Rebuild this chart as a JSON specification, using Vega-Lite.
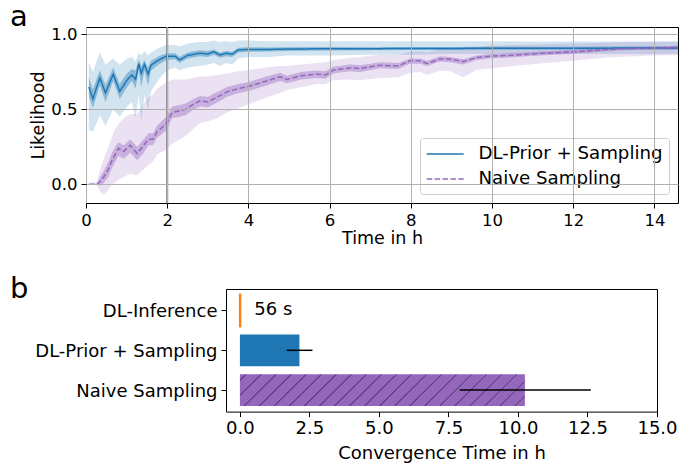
{
  "$schema": "https://vega.github.io/schema/vega-lite/v6.json",
  "background": "white",
  "padding": {"left": 8, "top": 2, "right": 0, "bottom": 0},
  "config": {
    "font": "DejaVu Sans",
    "view": {"stroke": "#000000", "strokeWidth": 1},
    "axis": {"domain": false, "tickColor": "#000000", "tickSize": 5, "tickWidth": 1, "labelColor": "#000000", "titleColor": "#000000", "labelFont": "DejaVu Sans", "titleFont": "DejaVu Sans", "titleFontWeight": "normal", "gridColor": "#b0b0b0", "gridWidth": 1, "labelFlush": false},
    "title": {"font": "DejaVu Sans", "fontWeight": "normal", "color": "#000000"},
    "concat": {"spacing": 26}
  },
  "resolve": {"scale": {"color": "independent", "strokeDash": "independent"}, "legend": {"color": "independent", "strokeDash": "independent"}},
  "vconcat": [
    {"spacing": 0,
     "resolve": {"scale": {"color": "independent", "strokeDash": "independent"}, "legend": {"color": "independent", "strokeDash": "independent"}},
     "hconcat": [
    {"width": 1, "height": 1, "view": {"stroke": null}, "data": {"values": []}, "mark": "point", "encoding": {}},
    {
      "width": 592,
      "height": 176,
      "title": {"text": "a", "anchor": "start", "frame": "group", "dx": -76, "dy": 28.5, "fontSize": 29, "baseline": "alphabetic", "offset": 0},
      "data": {"values": [
        {"s": "DL-Prior + Sampling", "t": 0.07, "m": 0.65, "il": 0.585, "ih": 0.715, "ol": 0.36, "oh": 0.815},
        {"s": "DL-Prior + Sampling", "t": 0.17, "m": 0.57, "il": 0.51, "ih": 0.635, "ol": 0.35, "oh": 0.75},
        {"s": "DL-Prior + Sampling", "t": 0.34, "m": 0.71, "il": 0.66, "ih": 0.76, "ol": 0.46, "oh": 0.88},
        {"s": "DL-Prior + Sampling", "t": 0.48, "m": 0.61, "il": 0.55, "ih": 0.665, "ol": 0.39, "oh": 0.8},
        {"s": "DL-Prior + Sampling", "t": 0.67, "m": 0.735, "il": 0.69, "ih": 0.78, "ol": 0.5, "oh": 0.84},
        {"s": "DL-Prior + Sampling", "t": 0.83, "m": 0.62, "il": 0.57, "ih": 0.67, "ol": 0.45, "oh": 0.8},
        {"s": "DL-Prior + Sampling", "t": 1.01, "m": 0.695, "il": 0.65, "ih": 0.74, "ol": 0.52, "oh": 0.84},
        {"s": "DL-Prior + Sampling", "t": 1.13, "m": 0.73, "il": 0.69, "ih": 0.77, "ol": 0.55, "oh": 0.85},
        {"s": "DL-Prior + Sampling", "t": 1.22, "m": 0.7, "il": 0.64, "ih": 0.76, "ol": 0.44, "oh": 0.82},
        {"s": "DL-Prior + Sampling", "t": 1.3, "m": 0.805, "il": 0.765, "ih": 0.835, "ol": 0.6, "oh": 0.88},
        {"s": "DL-Prior + Sampling", "t": 1.36, "m": 0.74, "il": 0.65, "ih": 0.79, "ol": 0.42, "oh": 0.86},
        {"s": "DL-Prior + Sampling", "t": 1.44, "m": 0.8, "il": 0.76, "ih": 0.83, "ol": 0.6, "oh": 0.89},
        {"s": "DL-Prior + Sampling", "t": 1.53, "m": 0.735, "il": 0.66, "ih": 0.78, "ol": 0.5, "oh": 0.86},
        {"s": "DL-Prior + Sampling", "t": 1.6, "m": 0.795, "il": 0.76, "ih": 0.825, "ol": 0.62, "oh": 0.88},
        {"s": "DL-Prior + Sampling", "t": 1.79, "m": 0.83, "il": 0.8, "ih": 0.855, "ol": 0.7, "oh": 0.91},
        {"s": "DL-Prior + Sampling", "t": 1.98, "m": 0.855, "il": 0.83, "ih": 0.875, "ol": 0.76, "oh": 0.93},
        {"s": "DL-Prior + Sampling", "t": 2.2, "m": 0.855, "il": 0.835, "ih": 0.875, "ol": 0.78, "oh": 0.93},
        {"s": "DL-Prior + Sampling", "t": 2.3, "m": 0.83, "il": 0.81, "ih": 0.85, "ol": 0.76, "oh": 0.92},
        {"s": "DL-Prior + Sampling", "t": 2.5, "m": 0.86, "il": 0.84, "ih": 0.88, "ol": 0.78, "oh": 0.94},
        {"s": "DL-Prior + Sampling", "t": 2.8, "m": 0.875, "il": 0.855, "ih": 0.895, "ol": 0.79, "oh": 0.95},
        {"s": "DL-Prior + Sampling", "t": 3.0, "m": 0.87, "il": 0.85, "ih": 0.89, "ol": 0.8, "oh": 0.95},
        {"s": "DL-Prior + Sampling", "t": 3.15, "m": 0.885, "il": 0.865, "ih": 0.9, "ol": 0.81, "oh": 0.96},
        {"s": "DL-Prior + Sampling", "t": 3.3, "m": 0.862, "il": 0.845, "ih": 0.88, "ol": 0.79, "oh": 0.95},
        {"s": "DL-Prior + Sampling", "t": 3.45, "m": 0.875, "il": 0.855, "ih": 0.89, "ol": 0.81, "oh": 0.955},
        {"s": "DL-Prior + Sampling", "t": 3.6, "m": 0.868, "il": 0.85, "ih": 0.885, "ol": 0.8, "oh": 0.95},
        {"s": "DL-Prior + Sampling", "t": 3.75, "m": 0.897, "il": 0.88, "ih": 0.912, "ol": 0.84, "oh": 0.96},
        {"s": "DL-Prior + Sampling", "t": 4.0, "m": 0.9, "il": 0.885, "ih": 0.915, "ol": 0.85, "oh": 0.96},
        {"s": "DL-Prior + Sampling", "t": 4.5, "m": 0.9, "il": 0.887, "ih": 0.913, "ol": 0.85, "oh": 0.955},
        {"s": "DL-Prior + Sampling", "t": 5.0, "m": 0.903, "il": 0.89, "ih": 0.915, "ol": 0.86, "oh": 0.955},
        {"s": "DL-Prior + Sampling", "t": 6.0, "m": 0.905, "il": 0.893, "ih": 0.917, "ol": 0.86, "oh": 0.955},
        {"s": "DL-Prior + Sampling", "t": 7.0, "m": 0.905, "il": 0.895, "ih": 0.915, "ol": 0.865, "oh": 0.955},
        {"s": "DL-Prior + Sampling", "t": 8.0, "m": 0.907, "il": 0.897, "ih": 0.917, "ol": 0.865, "oh": 0.955},
        {"s": "DL-Prior + Sampling", "t": 9.0, "m": 0.907, "il": 0.897, "ih": 0.917, "ol": 0.87, "oh": 0.955},
        {"s": "DL-Prior + Sampling", "t": 10.0, "m": 0.908, "il": 0.898, "ih": 0.918, "ol": 0.87, "oh": 0.955},
        {"s": "DL-Prior + Sampling", "t": 11.0, "m": 0.908, "il": 0.898, "ih": 0.918, "ol": 0.87, "oh": 0.953},
        {"s": "DL-Prior + Sampling", "t": 12.0, "m": 0.908, "il": 0.898, "ih": 0.918, "ol": 0.87, "oh": 0.953},
        {"s": "DL-Prior + Sampling", "t": 13.0, "m": 0.909, "il": 0.899, "ih": 0.919, "ol": 0.87, "oh": 0.953},
        {"s": "DL-Prior + Sampling", "t": 14.0, "m": 0.91, "il": 0.9, "ih": 0.92, "ol": 0.87, "oh": 0.953},
        {"s": "DL-Prior + Sampling", "t": 14.58, "m": 0.91, "il": 0.9, "ih": 0.92, "ol": 0.87, "oh": 0.953},
        {"s": "Naive Sampling", "t": 0.07, "m": 0.0, "il": 0.0, "ih": 0.0, "ol": 0.0, "oh": 0.0},
        {"s": "Naive Sampling", "t": 0.27, "m": 0.0, "il": 0.0, "ih": 0.0, "ol": -0.01, "oh": 0.02},
        {"s": "Naive Sampling", "t": 0.35, "m": 0.02, "il": -0.01, "ih": 0.05, "ol": -0.05, "oh": 0.1},
        {"s": "Naive Sampling", "t": 0.44, "m": 0.05, "il": 0.01, "ih": 0.09, "ol": -0.07, "oh": 0.17},
        {"s": "Naive Sampling", "t": 0.55, "m": 0.1, "il": 0.05, "ih": 0.15, "ol": -0.04, "oh": 0.25},
        {"s": "Naive Sampling", "t": 0.64, "m": 0.16, "il": 0.11, "ih": 0.21, "ol": 0.0, "oh": 0.32},
        {"s": "Naive Sampling", "t": 0.72, "m": 0.2, "il": 0.15, "ih": 0.25, "ol": 0.01, "oh": 0.37},
        {"s": "Naive Sampling", "t": 0.8, "m": 0.24, "il": 0.19, "ih": 0.28, "ol": 0.03, "oh": 0.4},
        {"s": "Naive Sampling", "t": 0.93, "m": 0.22, "il": 0.17, "ih": 0.26, "ol": 0.05, "oh": 0.44},
        {"s": "Naive Sampling", "t": 1.09, "m": 0.26, "il": 0.21, "ih": 0.3, "ol": 0.07, "oh": 0.47},
        {"s": "Naive Sampling", "t": 1.26, "m": 0.205, "il": 0.16, "ih": 0.25, "ol": 0.06, "oh": 0.47},
        {"s": "Naive Sampling", "t": 1.42, "m": 0.26, "il": 0.21, "ih": 0.3, "ol": 0.1, "oh": 0.54},
        {"s": "Naive Sampling", "t": 1.54, "m": 0.3, "il": 0.26, "ih": 0.34, "ol": 0.13, "oh": 0.58},
        {"s": "Naive Sampling", "t": 1.65, "m": 0.3, "il": 0.26, "ih": 0.34, "ol": 0.15, "oh": 0.6},
        {"s": "Naive Sampling", "t": 1.75, "m": 0.35, "il": 0.31, "ih": 0.39, "ol": 0.2, "oh": 0.64},
        {"s": "Naive Sampling", "t": 1.98, "m": 0.405, "il": 0.36, "ih": 0.45, "ol": 0.23, "oh": 0.68},
        {"s": "Naive Sampling", "t": 2.12, "m": 0.48, "il": 0.44, "ih": 0.52, "ol": 0.27, "oh": 0.7},
        {"s": "Naive Sampling", "t": 2.32, "m": 0.49, "il": 0.45, "ih": 0.53, "ol": 0.3, "oh": 0.7},
        {"s": "Naive Sampling", "t": 2.45, "m": 0.5, "il": 0.46, "ih": 0.54, "ol": 0.32, "oh": 0.7},
        {"s": "Naive Sampling", "t": 2.65, "m": 0.535, "il": 0.5, "ih": 0.57, "ol": 0.37, "oh": 0.71},
        {"s": "Naive Sampling", "t": 2.81, "m": 0.557, "il": 0.52, "ih": 0.59, "ol": 0.41, "oh": 0.72},
        {"s": "Naive Sampling", "t": 3.0, "m": 0.55, "il": 0.515, "ih": 0.585, "ol": 0.42, "oh": 0.72},
        {"s": "Naive Sampling", "t": 3.22, "m": 0.58, "il": 0.545, "ih": 0.615, "ol": 0.44, "oh": 0.73},
        {"s": "Naive Sampling", "t": 3.47, "m": 0.617, "il": 0.585, "ih": 0.65, "ol": 0.48, "oh": 0.74},
        {"s": "Naive Sampling", "t": 3.76, "m": 0.64, "il": 0.61, "ih": 0.67, "ol": 0.51, "oh": 0.755},
        {"s": "Naive Sampling", "t": 3.96, "m": 0.65, "il": 0.62, "ih": 0.68, "ol": 0.53, "oh": 0.76},
        {"s": "Naive Sampling", "t": 4.45, "m": 0.69, "il": 0.66, "ih": 0.72, "ol": 0.58, "oh": 0.78},
        {"s": "Naive Sampling", "t": 4.78, "m": 0.718, "il": 0.69, "ih": 0.745, "ol": 0.61, "oh": 0.79},
        {"s": "Naive Sampling", "t": 4.95, "m": 0.7, "il": 0.675, "ih": 0.725, "ol": 0.63, "oh": 0.79},
        {"s": "Naive Sampling", "t": 5.3, "m": 0.725, "il": 0.7, "ih": 0.75, "ol": 0.65, "oh": 0.8},
        {"s": "Naive Sampling", "t": 5.68, "m": 0.735, "il": 0.71, "ih": 0.76, "ol": 0.67, "oh": 0.81},
        {"s": "Naive Sampling", "t": 5.9, "m": 0.73, "il": 0.705, "ih": 0.755, "ol": 0.67, "oh": 0.815},
        {"s": "Naive Sampling", "t": 6.09, "m": 0.762, "il": 0.74, "ih": 0.785, "ol": 0.695, "oh": 0.83},
        {"s": "Naive Sampling", "t": 6.5, "m": 0.777, "il": 0.755, "ih": 0.8, "ol": 0.7, "oh": 0.845},
        {"s": "Naive Sampling", "t": 6.75, "m": 0.773, "il": 0.75, "ih": 0.795, "ol": 0.695, "oh": 0.85},
        {"s": "Naive Sampling", "t": 7.24, "m": 0.795, "il": 0.775, "ih": 0.815, "ol": 0.71, "oh": 0.865},
        {"s": "Naive Sampling", "t": 7.69, "m": 0.79, "il": 0.77, "ih": 0.81, "ol": 0.715, "oh": 0.865},
        {"s": "Naive Sampling", "t": 7.98, "m": 0.824, "il": 0.805, "ih": 0.84, "ol": 0.745, "oh": 0.885},
        {"s": "Naive Sampling", "t": 8.23, "m": 0.824, "il": 0.805, "ih": 0.84, "ol": 0.75, "oh": 0.89},
        {"s": "Naive Sampling", "t": 8.4, "m": 0.806, "il": 0.79, "ih": 0.825, "ol": 0.73, "oh": 0.88},
        {"s": "Naive Sampling", "t": 8.72, "m": 0.837, "il": 0.82, "ih": 0.855, "ol": 0.76, "oh": 0.905},
        {"s": "Naive Sampling", "t": 8.97, "m": 0.835, "il": 0.815, "ih": 0.85, "ol": 0.755, "oh": 0.905},
        {"s": "Naive Sampling", "t": 9.29, "m": 0.82, "il": 0.8, "ih": 0.835, "ol": 0.715, "oh": 0.9},
        {"s": "Naive Sampling", "t": 9.62, "m": 0.846, "il": 0.83, "ih": 0.86, "ol": 0.765, "oh": 0.915},
        {"s": "Naive Sampling", "t": 9.95, "m": 0.855, "il": 0.84, "ih": 0.87, "ol": 0.773, "oh": 0.925},
        {"s": "Naive Sampling", "t": 10.52, "m": 0.862, "il": 0.848, "ih": 0.876, "ol": 0.79, "oh": 0.93},
        {"s": "Naive Sampling", "t": 11.18, "m": 0.873, "il": 0.86, "ih": 0.886, "ol": 0.806, "oh": 0.935},
        {"s": "Naive Sampling", "t": 12.0, "m": 0.884, "il": 0.872, "ih": 0.896, "ol": 0.825, "oh": 0.94},
        {"s": "Naive Sampling", "t": 12.82, "m": 0.899, "il": 0.888, "ih": 0.91, "ol": 0.846, "oh": 0.945},
        {"s": "Naive Sampling", "t": 13.23, "m": 0.905, "il": 0.895, "ih": 0.915, "ol": 0.852, "oh": 0.948},
        {"s": "Naive Sampling", "t": 14.0, "m": 0.91, "il": 0.9, "ih": 0.92, "ol": 0.86, "oh": 0.95},
        {"s": "Naive Sampling", "t": 14.58, "m": 0.913, "il": 0.9, "ih": 0.925, "ol": 0.862, "oh": 0.955}
      ]},
      "encoding": {
        "x": {"field": "t", "type": "quantitative", "scale": {"domain": [0, 14.58], "nice": false, "zero": false},
              "axis": {"values": [0, 2, 4, 6, 8, 10, 12, 14], "title": "Time in h", "labelFontSize": 16.5, "titleFontSize": 17.5, "labelPadding": 4, "titlePadding": 1, "grid": true, "zindex": 1, "labelAngle": 0}}
      },
      "layer": [
        {
          "mark": {"type": "area", "opacity": 0.2},
          "encoding": {
            "y": {"field": "ol", "type": "quantitative", "scale": {"domain": [-0.125, 1.05], "nice": false, "zero": false},
                  "axis": {"values": [0, 0.5, 1], "format": ".1f", "title": "Likelihood", "labelFontSize": 16.5, "titleFontSize": 17.5, "labelPadding": 4, "titlePadding": 3, "grid": true, "zindex": 1}},
            "y2": {"field": "oh"},
            "detail": {"field": "s", "type": "nominal"},
            "fill": {"condition": {"test": "datum.s === 'Naive Sampling'", "value": "#9467bd"}, "value": "#1f77b4"}
          }
        },
        {
          "mark": {"type": "area", "opacity": 0.4},
          "encoding": {
            "y": {"field": "il", "type": "quantitative", "axis": {"title": "Likelihood"}},
            "y2": {"field": "ih"},
            "detail": {"field": "s", "type": "nominal"},
            "fill": {"condition": {"test": "datum.s === 'Naive Sampling'", "value": "#9467bd"}, "value": "#1f77b4"}
          }
        },
        {
          "data": {"values": [{"v": 2}]},
          "mark": {"type": "rule", "color": "#808080", "strokeWidth": 2},
          "encoding": {"x": {"field": "v", "type": "quantitative"}}
        },
        {
          "mark": {"type": "line", "strokeWidth": 1.5},
          "encoding": {
            "y": {"field": "m", "type": "quantitative", "axis": {"title": "Likelihood"}},
            "color": {"field": "s", "type": "nominal", "scale": {"domain": ["DL-Prior + Sampling", "Naive Sampling"], "range": ["#1f77b4", "#9467bd"]},
                      "legend": {"title": null, "orient": "bottom-right", "offset": 9, "padding": 6, "fillColor": "rgba(255,255,255,0.8)", "strokeColor": "#cccccc", "cornerRadius": 3, "labelFontSize": 18.2, "labelFont": "DejaVu Sans", "labelColor": "#000000", "symbolType": "M-1,0H3", "symbolSize": 342, "symbolStrokeWidth": 1.5, "labelOffset": 32.5, "rowPadding": 6, "labelLimit": 300}},
            "strokeDash": {"field": "s", "type": "nominal", "scale": {"domain": ["DL-Prior + Sampling", "Naive Sampling"], "range": [[1, 0], [5.5, 2.4]]},
                      "legend": {"title": null, "orient": "bottom-right", "offset": 9, "padding": 6, "fillColor": "rgba(255,255,255,0.8)", "strokeColor": "#cccccc", "cornerRadius": 3, "labelFontSize": 18.2, "labelFont": "DejaVu Sans", "labelColor": "#000000", "symbolType": "M-1,0H3", "symbolSize": 342, "symbolStrokeWidth": 1.5, "labelOffset": 32.5, "rowPadding": 6, "labelLimit": 300}}
          }
        }
      ]
    }
    ]},
    {"spacing": 0,
     "resolve": {"scale": {"color": "independent", "strokeDash": "independent"}, "legend": {"color": "independent", "strokeDash": "independent"}},
     "hconcat": [
    {"width": 1, "height": 1, "view": {"stroke": null}, "data": {"values": []}, "mark": "point", "encoding": {}},
    {
      "width": 431,
      "height": 122.6,
      "title": {"text": "b", "anchor": "start", "frame": "group", "dx": -216, "dy": 38.2, "fontSize": 29, "baseline": "alphabetic", "offset": 0},
      "data": {"values": [
        {"method": "DL-Inference", "hours": 0.0156, "label": "56 s"},
        {"method": "DL-Prior + Sampling", "hours": 2.14, "lo": 1.68, "hi": 2.61},
        {"method": "Naive Sampling", "hours": 10.25, "lo": 7.9, "hi": 12.62}
      ]},
      "encoding": {
        "y": {"field": "method", "type": "nominal",
              "scale": {"domain": ["DL-Inference", "DL-Prior + Sampling", "Naive Sampling"], "paddingInner": 0.2, "paddingOuter": 0.14},
              "axis": {"title": null, "labelFontSize": 18, "labelPadding": 4, "labelLimit": 300, "labelOffset": 2}}
      },
      "layer": [
        {
          "transform": [{"filter": "datum.method === 'DL-Inference'"}],
          "mark": {"type": "bar", "color": "#ff7f0e", "stroke": "#ff7f0e", "strokeWidth": 2},
          "encoding": {
            "x": {"field": "hours", "type": "quantitative", "scale": {"domain": [-0.5, 15], "nice": false, "zero": false},
                  "axis": {"values": [0, 2.5, 5, 7.5, 10, 12.5, 15], "format": ".1f", "title": "Convergence Time in h", "labelFontSize": 18, "titleFontSize": 18, "labelPadding": 2.5, "titlePadding": 7.5, "grid": false}},
            "x2": {"datum": 0}
          }
        },
        {
          "transform": [{"filter": "datum.method === 'DL-Prior + Sampling'"}],
          "mark": {"type": "bar", "color": "#1f77b4"},
          "encoding": {
            "x": {"field": "hours", "type": "quantitative", "axis": {"title": "Convergence Time in h"}},
            "x2": {"datum": 0}
          }
        },
        {
          "transform": [{"filter": "datum.method === 'Naive Sampling'"}],
          "mark": {"type": "bar", "fill": {"gradient": "linear", "x1": 0, "y1": 0, "x2": 1.1, "y2": 0.124, "stops": [
            {"offset": 0, "color": "#9467bd"},
            {"offset": 0.017, "color": "#9467bd"}, {"offset": 0.0188, "color": "#553a75"}, {"offset": 0.0212, "color": "#553a75"}, {"offset": 0.023, "color": "#9467bd"},
            {"offset": 0.0644, "color": "#9467bd"}, {"offset": 0.0662, "color": "#553a75"}, {"offset": 0.0686, "color": "#553a75"}, {"offset": 0.0704, "color": "#9467bd"},
            {"offset": 0.1117, "color": "#9467bd"}, {"offset": 0.1135, "color": "#553a75"}, {"offset": 0.1159, "color": "#553a75"}, {"offset": 0.1177, "color": "#9467bd"},
            {"offset": 0.1591, "color": "#9467bd"}, {"offset": 0.1609, "color": "#553a75"}, {"offset": 0.1633, "color": "#553a75"}, {"offset": 0.1651, "color": "#9467bd"},
            {"offset": 0.2064, "color": "#9467bd"}, {"offset": 0.2082, "color": "#553a75"}, {"offset": 0.2106, "color": "#553a75"}, {"offset": 0.2124, "color": "#9467bd"},
            {"offset": 0.2538, "color": "#9467bd"}, {"offset": 0.2556, "color": "#553a75"}, {"offset": 0.258, "color": "#553a75"}, {"offset": 0.2598, "color": "#9467bd"},
            {"offset": 0.3011, "color": "#9467bd"}, {"offset": 0.3029, "color": "#553a75"}, {"offset": 0.3053, "color": "#553a75"}, {"offset": 0.3071, "color": "#9467bd"},
            {"offset": 0.3485, "color": "#9467bd"}, {"offset": 0.3503, "color": "#553a75"}, {"offset": 0.3527, "color": "#553a75"}, {"offset": 0.3545, "color": "#9467bd"},
            {"offset": 0.3958, "color": "#9467bd"}, {"offset": 0.3976, "color": "#553a75"}, {"offset": 0.4, "color": "#553a75"}, {"offset": 0.4018, "color": "#9467bd"},
            {"offset": 0.4432, "color": "#9467bd"}, {"offset": 0.445, "color": "#553a75"}, {"offset": 0.4474, "color": "#553a75"}, {"offset": 0.4492, "color": "#9467bd"},
            {"offset": 0.4905, "color": "#9467bd"}, {"offset": 0.4923, "color": "#553a75"}, {"offset": 0.4947, "color": "#553a75"}, {"offset": 0.4965, "color": "#9467bd"},
            {"offset": 0.5379, "color": "#9467bd"}, {"offset": 0.5397, "color": "#553a75"}, {"offset": 0.5421, "color": "#553a75"}, {"offset": 0.5439, "color": "#9467bd"},
            {"offset": 0.5852, "color": "#9467bd"}, {"offset": 0.587, "color": "#553a75"}, {"offset": 0.5894, "color": "#553a75"}, {"offset": 0.5912, "color": "#9467bd"},
            {"offset": 0.6326, "color": "#9467bd"}, {"offset": 0.6344, "color": "#553a75"}, {"offset": 0.6368, "color": "#553a75"}, {"offset": 0.6386, "color": "#9467bd"},
            {"offset": 0.6799, "color": "#9467bd"}, {"offset": 0.6817, "color": "#553a75"}, {"offset": 0.6841, "color": "#553a75"}, {"offset": 0.6859, "color": "#9467bd"},
            {"offset": 0.7273, "color": "#9467bd"}, {"offset": 0.7291, "color": "#553a75"}, {"offset": 0.7315, "color": "#553a75"}, {"offset": 0.7333, "color": "#9467bd"},
            {"offset": 0.7746, "color": "#9467bd"}, {"offset": 0.7764, "color": "#553a75"}, {"offset": 0.7788, "color": "#553a75"}, {"offset": 0.7806, "color": "#9467bd"},
            {"offset": 0.822, "color": "#9467bd"}, {"offset": 0.8238, "color": "#553a75"}, {"offset": 0.8262, "color": "#553a75"}, {"offset": 0.828, "color": "#9467bd"},
            {"offset": 0.8693, "color": "#9467bd"}, {"offset": 0.8711, "color": "#553a75"}, {"offset": 0.8735, "color": "#553a75"}, {"offset": 0.8753, "color": "#9467bd"},
            {"offset": 0.9167, "color": "#9467bd"}, {"offset": 0.9185, "color": "#553a75"}, {"offset": 0.9209, "color": "#553a75"}, {"offset": 0.9227, "color": "#9467bd"},
            {"offset": 0.964, "color": "#9467bd"}, {"offset": 0.9658, "color": "#553a75"}, {"offset": 0.9682, "color": "#553a75"}, {"offset": 0.97, "color": "#9467bd"},
            {"offset": 1, "color": "#9467bd"}
          ]}},
          "encoding": {
            "x": {"field": "hours", "type": "quantitative", "axis": {"title": "Convergence Time in h"}},
            "x2": {"datum": 0}
          }
        },
        {
          "transform": [{"filter": "isValid(datum.lo)"}],
          "mark": {"type": "rule", "color": "#000000", "strokeWidth": 1.5},
          "encoding": {
            "x": {"field": "lo", "type": "quantitative", "axis": {"title": "Convergence Time in h"}},
            "x2": {"field": "hi"}
          }
        },
        {
          "transform": [{"filter": "datum.method === 'DL-Inference'"}],
          "mark": {"type": "text", "align": "left", "baseline": "middle", "dx": 14, "fontSize": 18, "font": "DejaVu Sans", "color": "#000000"},
          "encoding": {
            "x": {"field": "hours", "type": "quantitative", "axis": {"title": "Convergence Time in h"}},
            "text": {"field": "label"}
          }
        }
      ]
    }
    ]}
  ]
}
